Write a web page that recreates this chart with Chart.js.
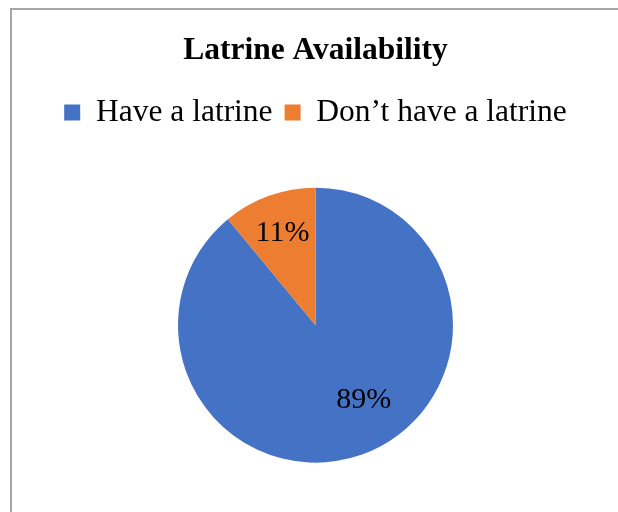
<!DOCTYPE html>
<html>
<head>
<meta charset="utf-8">
<script src="https://cdn.jsdelivr.net/npm/chart.js@4.4.1/dist/chart.umd.min.js"></script>
<style>
    html, body { margin: 0; padding: 0; background: #fff; overflow: hidden; }
    #frame {
        position: absolute; left: 10px; top: 8px; width: 700px; height: 600px;
        border-left: 2px solid #a6a6a6; border-top: 2px solid #a6a6a6;
    }
    #wrap { position: absolute; left: 0; top: 0; width: 631px; height: 512px; }
</style>
</head>
<body>
<div id="frame"></div>
<div id="wrap"><canvas id="grafico"></canvas></div>
<script>
let labels = ['Have a latrine', 'Don\u2019t have a latrine']
let valores = [89, 11]
let rotulos = ['89%', '11%']
let cores = ['#4472C4', '#ED7D31']

const serif = "'Liberation Serif', 'Times New Roman', serif"

// percent labels inside the slices
const rotulosPlugin = {
    id: 'rotulos',
    afterDatasetsDraw(chart, args, opts) {
        const ctx = chart.ctx
        const arcs = chart.getDatasetMeta(0).data
        ctx.save()
        ctx.font = '30px ' + serif
        ctx.fillStyle = '#000'
        ctx.textAlign = 'center'
        ctx.textBaseline = 'middle'
        arcs.forEach((arc, i) => {
            const p = arc.getProps(['x', 'y', 'startAngle', 'endAngle', 'outerRadius'], true)
            const ang = (p.startAngle + p.endAngle) / 2 + opts.shift[i] * Math.PI / 180
            const r = p.outerRadius * opts.dist[i]
            ctx.fillText(rotulos[i], p.x + Math.cos(ang) * r, p.y + Math.sin(ang) * r)
        })
        ctx.restore()
    }
}

let ctx = document.getElementById('grafico')
new Chart(ctx, {
    type: 'pie',
    data: {
        labels: labels,
        datasets: [{
            data: valores,
            backgroundColor: cores,
            borderWidth: 0
        }]
    },
    options: {
        responsive: true,
        maintainAspectRatio: false,
        animation: false,
        radius: 137.5,
        layout: { padding: { top: 0, bottom: -6, left: 0, right: 0 } },
        plugins: {
            title: {
                display: true,
                text: 'Latrine Availability',
                color: '#000',
                font: { family: serif, size: 31.5, weight: 'bold' },
                padding: { top: 32, bottom: 15 }
            },
            legend: {
                display: true,
                position: 'top',
                labels: {
                    color: '#000',
                    boxWidth: 16,
                    boxHeight: 16,
                    padding: 12,
                    font: { family: serif, size: 31.5 }
                }
            },
            tooltip: { enabled: false },
            rotulos: { shift: [-12.8, 0], dist: [0.65, 0.71] }
        }
    },
    plugins: [rotulosPlugin]
})
</script>
</body>
</html>
